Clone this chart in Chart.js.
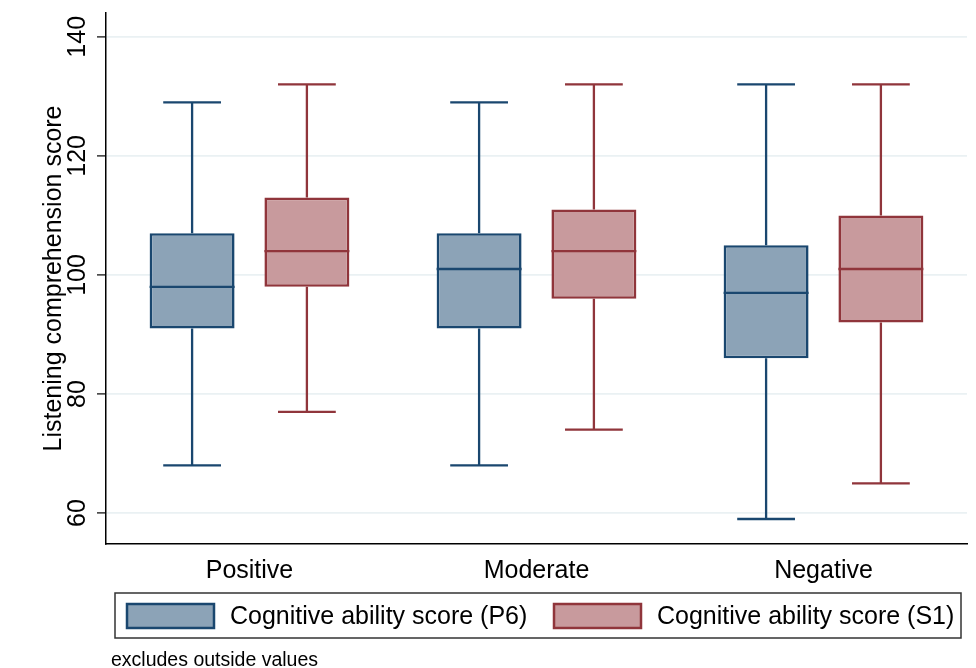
<!DOCTYPE html>
<html>
<head>
<meta charset="utf-8">
<script src="https://cdn.jsdelivr.net/npm/chart.js@4/dist/chart.umd.min.js"></script>
<style>
  html, body { margin: 0; padding: 0; background: #fff; }
  #wrap { width: 976px; height: 668px; position: relative; }
</style>
</head>
<body>
<div id="wrap"><canvas id="c" width="976" height="668"></canvas></div>
<script>
const categories = ["Positive", "Moderate", "Negative"];
const seriesNames = ["Cognitive ability score (P6)", "Cognitive ability score (S1)"];

const p6Min    = [68, 68, 59];
const p6Q1     = [91, 91, 86];
const p6Median = [98, 101, 97];
const p6Q3     = [107, 107, 105];
const p6Max    = [129, 129, 132];

const s1Min    = [77, 74, 65];
const s1Q1     = [98, 96, 92];
const s1Median = [104, 104, 101];
const s1Q3     = [113, 111, 110];
const s1Max    = [132, 132, 132];

const yTicks = [60, 80, 100, 120, 140];
const yTitle = "Listening comprehension score";
const noteText = "excludes outside values";

const FONT = "'Liberation Sans', Arial, sans-serif";
const navy = "#1a476f", navyFill = "#8ca3b7";
const maroon = "#90353b", maroonFill = "#c89a9d";

const stats = [
  { min: p6Min, q1: p6Q1, med: p6Median, q3: p6Q3, max: p6Max },
  { min: s1Min, q1: s1Q1, med: s1Median, q3: s1Q3, max: s1Max }
];

const boxPlugin = {
  id: 'boxparts',
  beforeDatasetsDraw(chart) {
    const ctx = chart.ctx;
    const y = chart.scales.y;
    chart.data.datasets.forEach((ds, di) => {
      const meta = chart.getDatasetMeta(di);
      const s = stats[di];
      meta.data.forEach((el, i) => {
        const cx = el.x;
        const w = el.width;
        const cap = w * 0.68;
        const pMin = y.getPixelForValue(s.min[i]);
        const pMax = y.getPixelForValue(s.max[i]);
        const pQ1 = y.getPixelForValue(s.q1[i]);
        const pQ3 = y.getPixelForValue(s.q3[i]);
        ctx.save();
        ctx.strokeStyle = ds.borderColor;
        ctx.lineWidth = 2.3;
        ctx.beginPath();
        ctx.moveTo(cx, pQ3); ctx.lineTo(cx, pMax);
        ctx.moveTo(cx - cap / 2, pMax); ctx.lineTo(cx + cap / 2, pMax);
        ctx.moveTo(cx, pQ1); ctx.lineTo(cx, pMin);
        ctx.moveTo(cx - cap / 2, pMin); ctx.lineTo(cx + cap / 2, pMin);
        ctx.stroke();
        ctx.restore();
      });
    });
  },
  afterDatasetsDraw(chart) {
    const ctx = chart.ctx;
    const y = chart.scales.y;
    chart.data.datasets.forEach((ds, di) => {
      const meta = chart.getDatasetMeta(di);
      const s = stats[di];
      meta.data.forEach((el, i) => {
        const cx = el.x;
        const w = el.width;
        const pMed = y.getPixelForValue(s.med[i]);
        ctx.save();
        ctx.strokeStyle = ds.borderColor;
        ctx.lineWidth = 2.3;
        ctx.beginPath();
        ctx.moveTo(cx - w / 2, pMed); ctx.lineTo(cx + w / 2, pMed);
        ctx.stroke();
        ctx.restore();
      });
    });
  },
  afterDraw(chart) {
    const ctx = chart.ctx;
    const y = chart.scales.y;
    const area = chart.chartArea;
    ctx.save();
    ctx.fillStyle = '#000';
    ctx.font = "25px " + FONT;
    ctx.textAlign = 'center';
    ctx.textBaseline = 'middle';
    yTicks.forEach(v => {
      const py = y.getPixelForValue(v);
      ctx.save();
      ctx.translate(78, py);
      ctx.rotate(-Math.PI / 2);
      ctx.fillText(String(v), 0, 0);
      ctx.restore();
    });
    ctx.font = "25px " + FONT;
    ctx.save();
    ctx.translate(54, (area.top + area.bottom) / 2);
    ctx.rotate(-Math.PI / 2);
    ctx.fillText(yTitle, 0, 0);
    ctx.restore();
    // legend
    ctx.strokeStyle = '#333';
    ctx.lineWidth = 1.5;
    ctx.strokeRect(115, 593, 846, 45);
    const items = [
      { sx: 127, tx: 230 },
      { sx: 554, tx: 657 }
    ];
    chart.data.datasets.forEach((ds, di) => {
      const it = items[di];
      ctx.fillStyle = ds.backgroundColor;
      ctx.fillRect(it.sx, 604, 87, 24);
      ctx.strokeStyle = ds.borderColor;
      ctx.lineWidth = 2.5;
      ctx.strokeRect(it.sx, 604, 87, 24);
      ctx.fillStyle = '#000';
      ctx.font = "25px " + FONT;
      ctx.textAlign = 'left';
      ctx.textBaseline = 'middle';
      ctx.fillText(ds.label, it.tx, 617);
    });
    ctx.font = "19.5px " + FONT;
    ctx.fillStyle = '#000';
    ctx.textAlign = 'left';
    ctx.textBaseline = 'middle';
    ctx.fillText(noteText, 111, 661);
    ctx.restore();
  }
};

new Chart(document.getElementById('c'), {
  type: 'bar',
  data: {
    labels: categories,
    datasets: [
      {
        label: seriesNames[0],
        data: p6Q1.map((v, i) => [v, p6Q3[i]]),
        backgroundColor: navyFill,
        borderColor: navy,
        borderWidth: 2.6,
        borderSkipped: false,
        categoryPercentage: 0.8,
        barPercentage: 0.74
      },
      {
        label: seriesNames[1],
        data: s1Q1.map((v, i) => [v, s1Q3[i]]),
        backgroundColor: maroonFill,
        borderColor: maroon,
        borderWidth: 2.6,
        borderSkipped: false,
        categoryPercentage: 0.8,
        barPercentage: 0.74
      }
    ]
  },
  options: {
    responsive: false,
    animation: false,
    events: [],
    layout: { padding: { top: 13, right: 9, bottom: 80, left: 0 } },
    plugins: {
      legend: { display: false },
      tooltip: { enabled: false },
      title: { display: false }
    },
    scales: {
      x: {
        grid: { display: false },
        border: { display: true, color: '#000', width: 1.5 },
        ticks: { color: '#000', font: { family: FONT, size: 25 }, padding: 4 },
        afterFit(scale) { scale.height = 44; }
      },
      y: {
        min: 54.8,
        max: 144,
        afterBuildTicks(scale) { scale.ticks = yTicks.map(v => ({ value: v })); },
        afterFit(scale) { scale.width = 106; },
        grid: { color: '#eaf1f3', lineWidth: 1.8, tickColor: '#000', tickLength: 9, tickWidth: 1.2 },
        border: { display: true, color: '#000', width: 1.5 },
        ticks: { display: false }
      }
    }
  },
  plugins: [boxPlugin]
});
</script>
</body>
</html>
